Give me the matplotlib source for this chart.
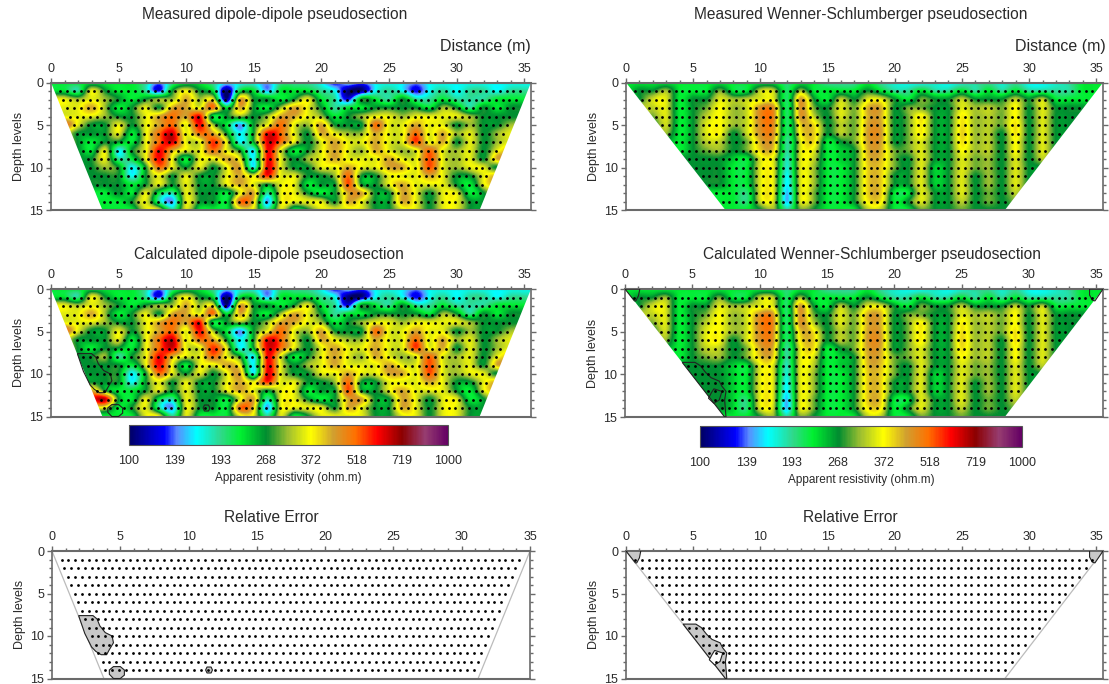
import matplotlib
matplotlib.use('Agg')
import matplotlib.pyplot as plt
import numpy as np
from matplotlib.colors import LinearSegmentedColormap, LogNorm, Normalize
from matplotlib.cm import ScalarMappable
from matplotlib.patches import Polygon
from matplotlib.ticker import NullLocator

plt.rcParams['font.family'] = ['Liberation Sans', 'DejaVu Sans']

W, H = 1109, 684

# apparent resistivity (ohm.m), rows = depth 0..15, columns = distance 0..35
dd_measured = [
    [225,225,225,225,225,225,225,190,145,190,225,225,190,165,165,165,145,190,190,190,165,125,165,145,165,165,165,145,165,165,165,165,165,165,165,165],
    [225,225,190,355,268,225,225,190,125,268,355,268,225,105,225,225,145,225,225,225,190,165,105,105,165,190,165,125,165,190,165,190,190,165,190,190],
    [355,355,315,355,315,268,225,268,315,315,430,315,355,105,430,268,268,225,268,355,225,190,125,268,225,190,268,190,190,225,190,190,190,225,225,225],
    [355,355,355,430,315,225,268,355,268,430,430,355,510,225,430,268,225,315,430,355,268,190,225,225,268,268,268,268,225,315,268,190,268,225,268,268],
    [355,355,355,355,315,268,268,355,430,510,430,600,225,268,315,268,315,430,430,355,315,225,268,315,355,355,315,355,355,355,355,315,268,268,268,268],
    [430,510,355,268,268,355,268,355,430,510,355,600,315,225,145,268,355,510,355,315,430,268,268,268,510,355,355,430,355,355,268,315,268,268,315,315],
    [355,355,268,268,268,355,225,355,510,640,355,510,430,268,165,268,600,510,355,268,430,355,315,315,430,355,355,510,355,430,315,355,268,315,355,355],
    [355,355,268,225,268,268,225,355,510,640,355,355,560,355,165,268,620,510,355,268,355,430,355,355,430,355,355,560,355,430,268,355,268,315,355,355],
    [268,268,268,225,355,165,268,355,600,430,355,355,510,355,268,165,600,355,225,268,355,430,355,315,430,355,315,355,510,355,315,355,268,355,430,430],
    [268,268,268,268,355,190,225,355,600,355,225,355,355,430,355,165,600,355,268,315,355,430,355,355,355,430,355,355,540,355,315,355,268,430,430,430],
    [268,268,268,268,315,268,165,268,510,355,268,355,268,355,430,165,620,355,268,268,355,355,430,355,355,430,430,355,540,355,315,355,355,268,430,430],
    [268,268,268,268,268,268,165,268,355,268,355,268,268,355,430,355,580,355,355,268,268,315,510,268,268,355,355,355,430,355,268,268,355,430,430,430],
    [225,225,225,268,268,268,225,268,355,268,355,268,268,355,430,355,268,355,355,225,268,268,540,268,268,355,430,355,355,355,268,225,355,430,430,430],
    [225,225,225,225,225,268,225,355,225,190,355,268,268,225,355,430,190,355,355,268,225,268,430,430,268,268,430,355,268,355,355,225,268,355,355,355],
    [225,225,225,225,225,225,268,355,190,145,355,268,268,225,510,400,145,355,355,355,355,268,430,355,268,268,430,355,268,355,355,268,268,355,355,355],
    [225,225,225,225,225,225,225,355,355,190,355,225,225,225,355,355,190,355,225,268,355,355,355,355,268,268,355,355,268,355,355,268,268,355,355,355],
]

ws_measured = [
    [225,225,225,225,225,225,225,225,225,225,225,225,200,225,225,190,190,190,225,190,175,165,165,175,165,175,190,190,175,190,165,165,175,190,225,225],
    [225,268,268,315,225,225,225,300,225,225,330,330,205,315,225,225,225,225,268,225,190,190,225,190,190,225,190,225,190,225,190,190,190,190,225,225],
    [225,268,340,350,225,268,268,350,315,330,350,350,205,440,268,225,330,268,350,350,268,225,300,268,268,330,268,268,268,330,268,330,225,225,225,225],
    [300,330,330,350,225,268,300,370,315,340,450,450,205,450,300,268,350,300,420,420,268,300,300,268,268,350,315,330,300,370,268,350,268,268,268,268],
    [300,330,300,350,225,268,330,370,315,340,470,470,205,450,330,268,350,300,420,420,268,300,380,268,268,380,315,330,300,370,268,350,268,268,268,268],
    [268,300,268,340,225,268,350,370,315,340,460,460,205,400,390,268,330,300,430,430,268,300,380,268,268,390,315,330,300,390,268,350,268,268,268,268],
    [268,268,268,315,225,268,350,370,268,340,450,450,205,380,400,268,330,300,440,440,268,300,380,268,268,400,315,330,268,390,268,350,268,268,268,268],
    [268,268,268,268,225,268,330,330,268,300,420,420,190,350,390,225,268,300,430,430,268,300,350,268,268,390,315,330,268,370,268,350,268,268,268,268],
    [268,268,268,268,225,268,300,315,268,300,400,400,190,350,350,225,240,268,420,420,300,300,350,268,268,370,315,330,268,370,268,350,268,268,268,268],
    [268,268,268,268,268,268,268,268,240,225,350,350,180,350,330,225,240,268,410,410,300,268,350,268,268,350,300,315,268,350,268,330,268,268,268,268],
    [268,268,268,268,268,268,268,268,225,225,350,350,175,350,315,225,225,268,400,400,300,268,350,240,268,350,300,315,268,350,268,268,268,268,268,268],
    [268,268,268,268,268,268,268,268,225,225,350,350,165,350,315,225,225,268,400,400,268,268,350,240,268,350,268,315,268,350,268,268,268,268,268,268],
    [268,268,268,268,268,268,268,268,225,225,350,350,160,350,315,225,225,268,400,400,268,268,350,240,268,350,268,315,268,350,268,268,268,268,268,268],
    [225,225,225,225,225,225,225,225,225,200,350,350,150,350,300,225,225,268,400,400,225,225,350,268,268,350,268,300,268,330,268,268,268,268,268,268],
    [225,225,225,225,225,225,225,225,225,200,340,340,150,350,300,225,225,268,380,380,225,268,350,268,268,330,268,300,268,300,268,268,268,268,268,268],
    [225,225,225,225,225,225,225,225,225,225,268,315,190,300,268,225,225,225,330,330,225,225,300,268,268,300,268,268,268,268,268,268,268,268,268,268],
]

# calculated sections only differ from measured ones in the lower left corner
dd_calc_rows = [8, 9, 10, 11, 12, 13, 14]
dd_calc_corner = [
    [268,268,268,268,315,190],
    [268,268,268,268,268,268],
    [268,268,268,268,268,268],
    [268,268,268,268,268,268],
    [355,355,355,430,268,225],
    [430,430,430,560,660,268],
    [355,355,355,355,355,225],
]
ws_calc_rows = [9, 10, 11, 12, 13, 14]
ws_calc_corner = [
    [268,268,268,268,268,240],
    [268,268,268,268,268,240],
    [268,268,268,268,268,240],
    [268,268,268,268,268,240],
    [268,268,268,268,268,240],
    [268,268,268,268,268,240],
]

depth_levels = list(range(1, 15))
dd_dot_start = [0.7, 0.9, 1.2, 1.4, 1.7, 1.9, 2.2, 2.4, 2.7, 2.9, 3.2, 3.4, 3.7, 3.9]
dd_dot_end = [34.7, 34.4, 34.2, 33.9, 33.7, 33.4, 33.2, 32.9, 32.7, 32.4, 32.2, 31.9, 31.7, 31.4]
ws_dot_start = [0.7, 1.2, 1.7, 2.2, 2.7, 3.2, 3.7, 4.2, 4.7, 5.2, 5.7, 6.2, 6.7, 7.2]
ws_dot_end = [34.8, 34.3, 33.8, 33.3, 32.8, 32.3, 31.8, 31.3, 30.8, 30.3, 29.8, 29.3, 28.8, 28.3]

# outlines of the high error zones
dd_err_a_x = [1.95, 3.0, 3.3, 3.5, 3.9, 4.4, 4.5, 4.2, 4.0, 3.6, 3.2, 2.9, 2.4]
dd_err_a_y = [7.6, 7.6, 8.0, 8.8, 9.6, 10.0, 10.8, 11.6, 12.2, 12.2, 11.8, 11.3, 9.7]
dd_err_b_x = [4.5, 4.2, 4.2, 4.5, 5.0, 5.3, 5.3, 5.0]
dd_err_b_y = [15.0, 14.5, 14.0, 13.6, 13.6, 14.0, 14.6, 15.0]
dd_err_c_x = [11.25, 11.35, 11.65, 11.75, 11.65, 11.35]
dd_err_c_y = [14.0, 13.65, 13.65, 14.0, 14.35, 14.35]

ws_err_a_x = [4.25, 5.2, 5.6, 6.0, 6.4, 7.0, 7.2, 7.5, 7.4, 7.5, 7.4]
ws_err_a_y = [8.6, 8.6, 9.0, 9.8, 10.4, 10.8, 11.4, 12.0, 13.0, 15.0, 15.0]
ws_err_b_x = [6.6, 7.2, 7.0, 6.6, 6.2, 6.4]
ws_err_b_y = [11.7, 12.0, 13.0, 13.4, 12.8, 12.2]
ws_err_c_x = [0.0, 1.1, 1.0, 0.8, 0.7]
ws_err_c_y = [0.0, 0.0, 0.8, 1.4, 1.4]
ws_err_d_x = [34.5, 35.5, 34.9, 34.7, 34.5]
ws_err_d_y = [0.0, 0.0, 1.4, 1.3, 0.7]

cbar_ticks = [100, 139, 193, 268, 372, 518, 719, 1000]

cmap = LinearSegmentedColormap.from_list('res2d', [
    (0.0, '#000064'), (0.07, '#0000c8'), (0.11, '#0000ff'), (0.15, '#5a8cff'),
    (0.21, '#00ffff'), (0.286, '#30d88c'), (0.35, '#00f030'), (0.43, '#008c30'),
    (0.5, '#a0c030'), (0.57, '#ffff00'), (0.64, '#d0a030'), (0.71, '#ff7000'),
    (0.78, '#ff0000'), (0.857, '#8c0000'), (0.93, '#963c70'), (1.0, '#640064')])
norm = LogNorm(100, 1000)

GREY = '#6a6a6a'
TXT = '#2a2a2a'


def make_ax(left, right, top, bottom, xmax):
    ax = plt.gcf().add_axes([left / W, 1 - bottom / H, (right - left) / W, (bottom - top) / H])
    ax.set_xlim(0, xmax)
    ax.set_ylim(15, 0)
    ax.set_xticks(range(0, 36, 5))
    ax.set_xticks(range(0, 36), minor=True)
    ax.set_yticks(range(0, 16, 5))
    ax.set_yticks(range(0, 16), minor=True)
    ax.tick_params(which='both', top=True, bottom=False, labeltop=True, labelbottom=False,
                   left=True, right=True, color=GREY, direction='out')
    ax.tick_params(which='major', length=3.5, width=1, labelsize=9, labelcolor=TXT, pad=2)
    ax.tick_params(which='minor', length=2.5, width=1)
    for side, sp in ax.spines.items():
        sp.set_color(GREY)
        sp.set_linewidth(1.5 if side in ('top', 'bottom') else 1.2)
    ax.set_ylabel('Depth levels', fontsize=9, color=TXT, labelpad=3)
    return ax


def add_dots(ax, starts, ends):
    for d, s, e in zip(depth_levels, starts, ends):
        xs = np.arange(s, e + 0.01, 0.5)
        ax.plot(xs, [d] * len(xs), ls='none', marker='o', ms=2.0, mew=0, color='black', zorder=5)


def section(ax, grid, corners, starts, ends):
    poly = Polygon(corners, closed=True, transform=ax.transData, fc='none', ec='none')
    ax.add_patch(poly)
    # spline16 goes through the grid values, the log scale matches the colour bar
    im = ax.imshow(np.log10(grid), cmap=cmap, norm=Normalize(2, 3), interpolation='spline16',
                   aspect='auto', extent=[-0.5, 35.5, 15.5, -0.5], zorder=1)
    im.set_clip_path(poly)
    ax.set_xlim(0, 35.5)
    ax.set_ylim(15, 0)
    add_dots(ax, starts, ends)


def outline(ax, xs, ys, fill=None):
    ax.add_patch(Polygon(np.column_stack([xs, ys]), closed=True, fc=fill if fill else 'none',
                         ec='#222222', lw=0.8, zorder=4))


def top_text(x, y, s, size=11, ha='center'):
    plt.gcf().text(x / W, 1 - y / H, s, fontsize=size, color=TXT, ha=ha, va='center')


dd_trap = [(0, 0), (35.5, 0), (31.7, 15), (3.8, 15)]
ws_trap = [(0, 0), (35.5, 0), (28.2, 15), (7.4, 15)]

dd_meas = np.array(dd_measured, dtype=float)
ws_meas = np.array(ws_measured, dtype=float)
dd_calc = dd_meas.copy()
dd_calc[np.ix_(dd_calc_rows, range(6))] = dd_calc_corner
ws_calc = ws_meas.copy()
ws_calc[np.ix_(ws_calc_rows, range(3, 9))] = ws_calc_corner

fig = plt.figure(figsize=(W / 100, H / 100), dpi=100)

ax = make_ax(51, 531, 82.5, 210, 35.5)
section(ax, dd_meas, dd_trap, dd_dot_start, dd_dot_end)
top_text(275, 15, 'Measured dipole-dipole pseudosection', size=11.2)
top_text(531, 47, 'Distance (m)', size=11.5, ha='right')

ax = make_ax(626, 1103, 82.5, 210, 35.5)
section(ax, ws_meas, ws_trap, ws_dot_start, ws_dot_end)
top_text(861, 15, 'Measured Wenner-Schlumberger pseudosection', size=11.2)
top_text(1106, 47, 'Distance (m)', size=11.5, ha='right')

ax = make_ax(51, 531, 289, 416.5, 35.5)
section(ax, dd_calc, dd_trap, dd_dot_start, dd_dot_end)
outline(ax, dd_err_a_x, dd_err_a_y)
outline(ax, dd_err_b_x, dd_err_b_y)
outline(ax, dd_err_c_x, dd_err_c_y)
top_text(269, 255, 'Calculated dipole-dipole pseudosection', size=11.2)

ax = make_ax(625, 1103, 289, 417, 35.5)
section(ax, ws_calc, ws_trap, ws_dot_start, ws_dot_end)
outline(ax, ws_err_a_x, ws_err_a_y)
outline(ax, ws_err_b_x, ws_err_b_y)
outline(ax, ws_err_c_x, ws_err_c_y)
outline(ax, ws_err_d_x, ws_err_d_y)
top_text(872, 255, 'Calculated Wenner-Schlumberger pseudosection', size=11.2)

for left, right, top, bottom, ly in [(129, 448, 425, 445, 478), (700, 1022, 426, 447, 480)]:
    cax = fig.add_axes([left / W, 1 - bottom / H, (right - left) / W, (bottom - top) / H])
    cb = fig.colorbar(ScalarMappable(norm=norm, cmap=cmap), cax=cax, orientation='horizontal')
    cb.set_ticks(cbar_ticks, labels=[str(t) for t in cbar_ticks])
    cax.xaxis.set_minor_locator(NullLocator())
    cax.tick_params(which='major', length=0, labelsize=9, labelcolor=TXT, pad=7)
    cb.outline.set_linewidth(0.8)
    cb.outline.set_edgecolor('#555555')
    top_text((left + right) / 2, ly, 'Apparent resistivity (ohm.m)', size=8.5)

ax = make_ax(52, 530, 551, 678.5, 35)
ax.plot([0, 3.8], [0, 15], color='#bbbbbb', lw=0.9, zorder=2)
ax.plot([35, 31.2], [0, 15], color='#bbbbbb', lw=0.9, zorder=2)
outline(ax, dd_err_a_x, dd_err_a_y, fill='#c8c8c8')
outline(ax, dd_err_b_x, dd_err_b_y, fill='#c8c8c8')
outline(ax, dd_err_c_x, dd_err_c_y, fill='#c8c8c8')
add_dots(ax, dd_dot_start, [e - 0.3 for e in dd_dot_end])
top_text(271, 517, 'Relative Error', size=11.2)

ax = make_ax(626, 1103, 551, 678.5, 35.5)
ax.plot([0, 7.4], [0, 15], color='#bbbbbb', lw=0.9, zorder=2)
ax.plot([35.5, 28.2], [0, 15], color='#bbbbbb', lw=0.9, zorder=2)
outline(ax, ws_err_a_x, ws_err_a_y, fill='#c8c8c8')
outline(ax, ws_err_b_x, ws_err_b_y, fill='white')
outline(ax, ws_err_c_x, ws_err_c_y, fill='#c8c8c8')
outline(ax, ws_err_d_x, ws_err_d_y, fill='#c8c8c8')
add_dots(ax, ws_dot_start, ws_dot_end)
top_text(850, 517, 'Relative Error', size=11.2)

fig.savefig('out.png', dpi=100)
